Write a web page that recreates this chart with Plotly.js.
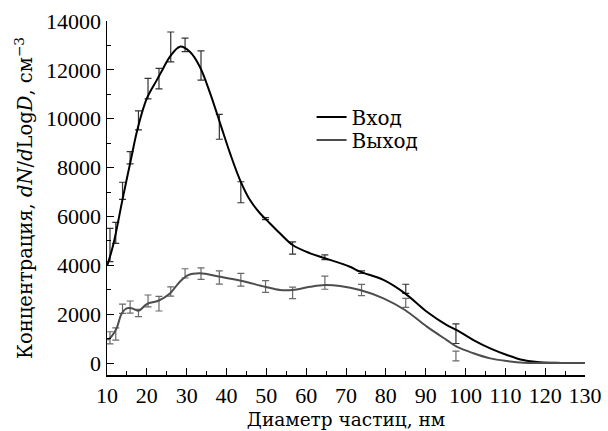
<!DOCTYPE html>
<html>
<head>
<meta charset="utf-8">
<script src="https://cdn.plot.ly/plotly-3.0.1.min.js"></script>
<style>html,body{margin:0;padding:0;background:#fff;}#chart{width:608px;height:431px;}</style>
</head>
<body>
<div id="chart"></div>
<script>
// Measured points (particle diameter, nm)
const diam = [10.75, 12.2, 13.9, 15.8, 17.9, 20.3, 23.05, 26.0, 29.6, 33.6, 38.2, 43.6, 49.8, 56.6, 64.7, 73.9, 85.0, 97.6];
const inVals = [4830, 5330, 7050, 8400, 9930, 11230, 11640, 12940, 13020, 12180, 9670, 6990, 5910, 4710, 4330, 3720, 3040, 1200];
const inErr = [680, 430, 350, 250, 390, 420, 420, 610, 275, 600, 510, 430, 40, 250, 100, 55, 185, 400];
const outVals = [1030, 1190, 2220, 2290, 2050, 2540, 2430, 2930, 3670, 3660, 3500, 3410, 3130, 2870, 3290, 2990, 2460, 290];
const outErr = [250, 250, 190, 250, 150, 245, 300, 190, 190, 235, 270, 260, 240, 235, 270, 230, 185, 200];

// Smoothed curves
const inFitX = [10.1, 11.6, 13.9, 15.8, 17.7, 20, 22.5, 24.1, 25.8, 28.3, 30.8, 33.3, 35.9, 38.4, 40.9, 43.4, 45.9, 48.4, 50.1, 53.4, 56.6, 61, 64.5, 71, 73.5, 79.4, 84.8, 90.3, 95.3, 97.8, 102, 106.2, 110.4, 114.5, 118.7, 124, 130];
const inFit = [4010, 4860, 6700, 8170, 9600, 10830, 11580, 12060, 12540, 12950, 12740, 12130, 11040, 9810, 8580, 7490, 6670, 6130, 5850, 5310, 4830, 4490, 4300, 3940, 3740, 3400, 2850, 2100, 1555, 1350, 940, 600, 330, 120, 30, 5, 0];
const outFitX = [10.1, 11.2, 12.4, 13.7, 14.9, 16.2, 17.9, 20, 22.9, 25.8, 28.3, 30.4, 33.3, 38.4, 43.6, 49.7, 53.4, 56.6, 61, 64.7, 68.5, 73.5, 79.4, 84.8, 90.3, 95.3, 97.8, 102, 106.2, 110.4, 114.5, 120, 130];
const outFit = [940, 1100, 1420, 2030, 2240, 2240, 2140, 2415, 2550, 2850, 3330, 3600, 3670, 3530, 3370, 3120, 2990, 2990, 3120, 3190, 3150, 2990, 2650, 2170, 1490, 940, 670, 400, 190, 80, 10, 0, 0];

const seriesNames = ['Вход', 'Выход'];
const NUMFONT = 'Liberation Serif, Times New Roman, serif';
const TXTFONT = 'DejaVu Serif, serif';

const traces = [
  {x: diam, y: inVals, type: 'scatter', mode: 'markers', showlegend: false, hoverinfo: 'skip',
   marker: {size: 2, color: 'rgba(0,0,0,0)'},
   error_y: {type: 'data', array: inErr, visible: true, color: '#333', thickness: 1.2, width: 3.5}},
  {x: diam, y: outVals, type: 'scatter', mode: 'markers', showlegend: false, hoverinfo: 'skip',
   marker: {size: 2, color: 'rgba(0,0,0,0)'},
   error_y: {type: 'data', array: outErr, visible: true, color: '#6a6a6a', thickness: 1.2, width: 3.5}},
  {x: inFitX, y: inFit, type: 'scatter', mode: 'lines', name: seriesNames[0], legend: 'legend',
   line: {color: '#000', width: 2, shape: 'spline', smoothing: 1}},
  {x: outFitX, y: outFit, type: 'scatter', mode: 'lines', name: seriesNames[1], legend: 'legend2',
   line: {color: '#4d4d4d', width: 2, shape: 'spline', smoothing: 1}}
];

const legendCommon = {xanchor: 'left', yanchor: 'middle', bgcolor: 'rgba(0,0,0,0)', borderwidth: 0,
  font: {family: TXTFONT, size: 20, color: '#000'}};

const layout = {
  width: 608, height: 431,
  margin: {l: 107, r: 23, t: 21, b: 56, pad: 0},
  paper_bgcolor: '#fff', plot_bgcolor: '#fff',
  font: {family: NUMFONT, size: 22, color: '#000'},
  showlegend: true,
  legend: Object.assign({x: 0.428, y: 0.7288}, legendCommon),
  legend2: Object.assign({x: 0.428, y: 0.6638}, legendCommon),
  xaxis: {
    range: [10, 130], tick0: 10, dtick: 10, ticks: 'inside', ticklen: 7, tickwidth: 1, tickcolor: '#000',
    minor: {dtick: 5, ticks: 'inside', ticklen: 4, tickwidth: 1, tickcolor: '#000', showgrid: false},
    showline: true, linecolor: '#000', linewidth: 1.5, mirror: false,
    showgrid: false, zeroline: false, tickformat: 'd',
    tickfont: {family: NUMFONT, size: 22, color: '#000'},
    title: {text: 'Диаметр частиц, нм', font: {family: TXTFONT, size: 18.5, color: '#000'}, standoff: 6}
  },
  yaxis: {
    range: [-490, 14000], tick0: 0, dtick: 2000, ticks: 'inside', ticklen: 7, tickwidth: 1, tickcolor: '#000',
    minor: {dtick: 1000, ticks: 'inside', ticklen: 4, tickwidth: 1, tickcolor: '#000', showgrid: false},
    showline: true, linecolor: '#000', linewidth: 1.5, mirror: false,
    showgrid: false, zeroline: false, tickformat: 'd', exponentformat: 'none',
    tickfont: {family: NUMFONT, size: 22, color: '#000'},
    title: {text: 'Концентрация, <i>dN</i>/<i>d</i>Log<i>D</i>, см<sup>−3</sup>', font: {family: TXTFONT, size: 19.5, color: '#000'}, standoff: 8}
  }
};

Plotly.newPlot('chart', traces, layout, {staticPlot: true, displayModeBar: false});
</script>
</body>
</html>
